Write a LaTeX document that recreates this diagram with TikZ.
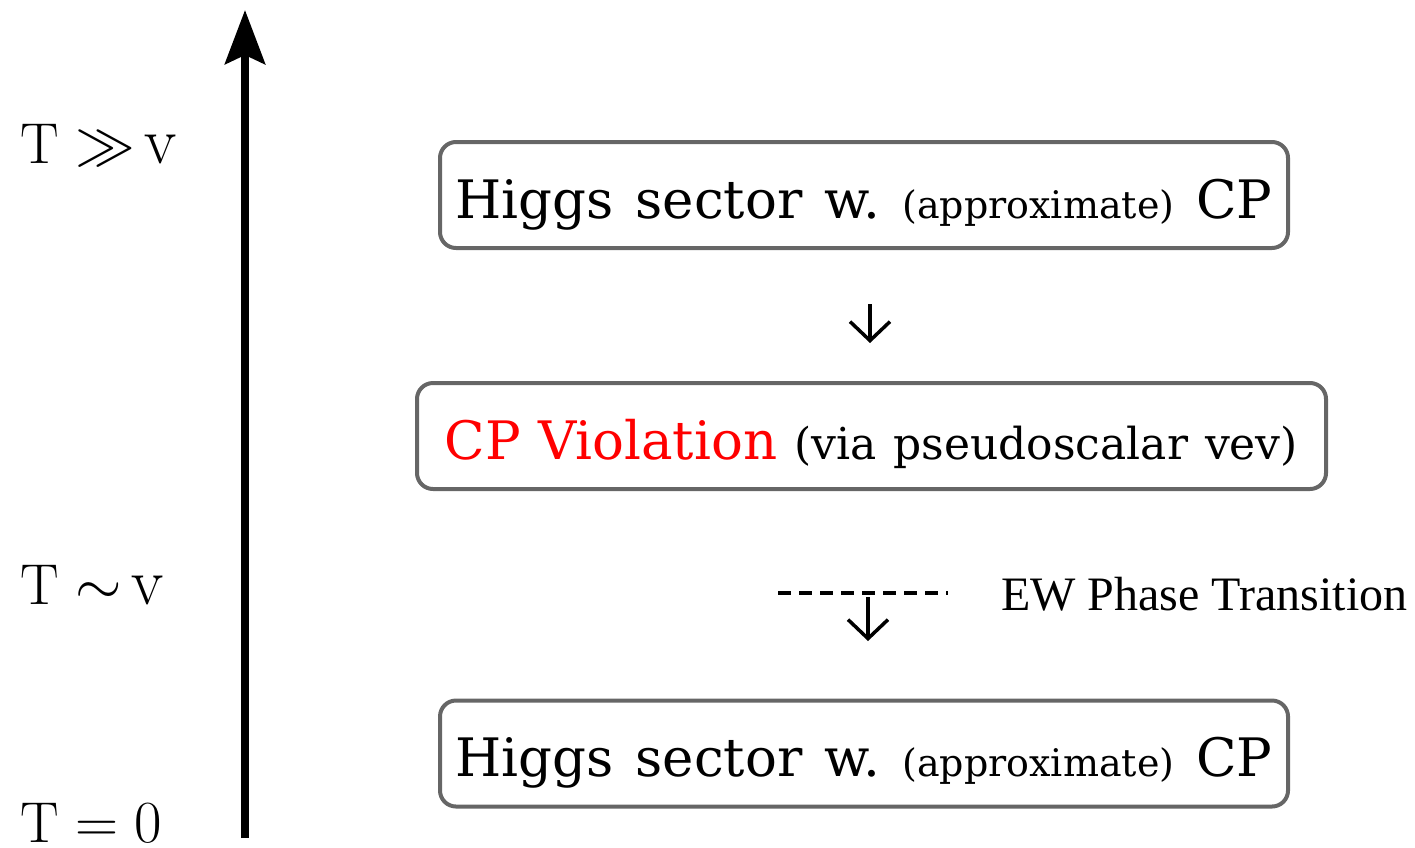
\documentclass[tikz,border=0pt]{standalone}
\usepackage{fontspec}
\newfontfamily\ewfont{Liberation Serif}
\newfontfamily\boxfont{DejaVu Serif}
\usetikzlibrary{arrows.meta}
\definecolor{boxgray}{HTML}{666666}
\definecolor{cpred}{HTML}{FF0000}
\newcommand\bigsz{\fontsize{53}{58}\selectfont}
\newcommand\smallsz{\fontsize{38}{42}\selectfont}
\newcommand\viasz{\fontsize{44}{48}\selectfont}
\newcommand\midsz{\fontsize{48}{52}\selectfont}
\newcommand\wsp{\hspace{22pt}}
\newcommand\vsp{\hspace{17pt}}
\newcommand\bigv{\scalebox{1.15}{$\mathrm{v}$}}
\newcommand\templbl[1]{\scalebox{2.4}{\fontsize{24}{26}\selectfont#1}}
\begin{document}
\begin{tikzpicture}[x=1pt,y=-1pt,
  stagebox/.style={draw=boxgray, line width=4pt, rounded corners=16pt,
    minimum height=106pt, inner sep=0pt, text height=46pt, text depth=0pt},
  templabel/.style={anchor=west, inner sep=0pt},
  flowarrow/.style={line width=3.5pt, -{Straight Barb[length=19pt,width=40pt]}},
  axisarrow/.style={line width=8pt, -{Stealth[length=54pt,width=40pt,inset=9pt]}}
]
\useasboundingbox (0,0) rectangle (1415,847);

% boxes
\node[stagebox, minimum width=848pt] (box1) at (864,195)
  {\boxfont\bigsz Higgs\wsp sector\wsp w.\wsp{\smallsz (approximate)}\wsp CP};
\node[stagebox, minimum width=909pt] (box2) at (871.5,436)
  {\boxfont\bigsz\textcolor{cpred}{CP\vsp Violation}\vsp{\viasz (via\vsp pseudoscalar\vsp vev)}};
\node[stagebox, minimum width=848pt] (box3) at (864,753.5)
  {\boxfont\bigsz Higgs\wsp sector\wsp w.\wsp{\smallsz (approximate)}\wsp CP};

% flow arrows
\coordinate (a1s) at (870,304);
\coordinate (a1e) at (870,343);
\draw[flowarrow] (a1s) -- (a1e);

\coordinate (dashL) at (778,593);
\coordinate (dashR) at (948,593);
\draw[line width=4.5pt, dash pattern=on 13pt off 8pt] (dashL) -- (dashR);
\coordinate (a2s) at (868,597);
\coordinate (a2e) at (868,641);
\draw[flowarrow] (a2s) -- (a2e);
\node[anchor=west, inner sep=0pt, font=\ewfont\midsz] (ewpt) at (1001,594) {EW Phase Transition};

% temperature axis
\coordinate (axbot) at (245,838);
\coordinate (axtop) at (245,10);
\draw[axisarrow] (axbot) -- (axtop);

\node[templabel] (thigh) at (20,145) {\templbl{$\mathrm{T}\gg$\,\bigv}};
\node[templabel] (tmid) at (20,585) {\templbl{$\mathrm{T}\sim$\,\bigv}};
\node[templabel] (tzero) at (20,823) {\templbl{$\mathrm{T}=0$}};
\end{tikzpicture}
\end{document}
